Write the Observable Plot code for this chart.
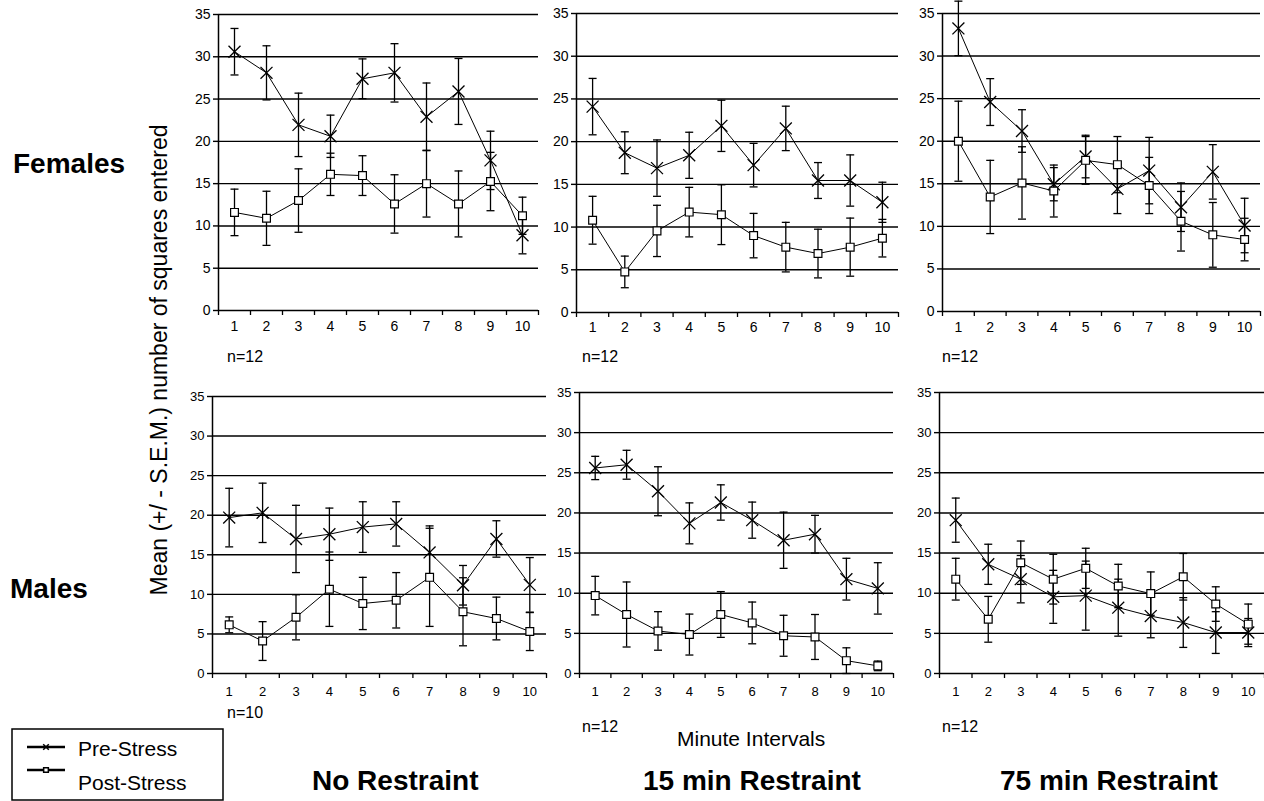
<!DOCTYPE html>
<html>
<head>
<meta charset="utf-8">
<script src="https://cdn.jsdelivr.net/npm/d3@7"></script>
<script src="https://cdn.jsdelivr.net/npm/@observablehq/plot@0.6"></script>
<style>
  body { margin: 0; background: #fff; }
  #page { position: relative; width: 1264px; height: 801px; overflow: hidden; background: #fff;
          font-family: "Liberation Sans", Arial, Helvetica, sans-serif; color: #000; }
  .panel { position: absolute; }
  #overlay { position: absolute; left: 0; top: 0; pointer-events: none; }
</style>
</head>
<body>
<div id="page"></div>
<script>
// Minute intervals on the x axis and the y tick values
const intervals = [1, 2, 3, 4, 5, 6, 7, 8, 9, 10];
const yTicks = [0, 5, 10, 15, 20, 25, 30, 35];
const gridValues = [5, 10, 15, 20, 25, 30, 35];
const categoryEdges = [0.5, 1.5, 2.5, 3.5, 4.5, 5.5, 6.5, 7.5, 8.5, 9.5, 10.5];

// Females, no restraint
const femNoPre      = [30.6, 28.1, 21.95, 20.6, 27.4, 28.1, 22.9, 25.9, 17.75, 8.9];
const femNoPreSem   = [2.75, 3.2, 3.75, 2.5, 2.35, 3.45, 4.0, 3.9, 3.45, 2.2];
const femNoPost     = [11.6, 10.9, 13.0, 16.1, 15.95, 12.6, 15.0, 12.6, 15.25, 11.2];
const femNoPostSem  = [2.75, 3.2, 3.75, 2.5, 2.35, 3.45, 3.95, 3.9, 3.45, 2.2];

// Females, 15 min restraint
const fem15Pre      = [24.1, 18.7, 16.9, 18.4, 21.85, 17.25, 21.55, 15.45, 15.45, 12.9];
const fem15PreSem   = [3.3, 2.45, 3.3, 2.7, 3.0, 2.55, 2.6, 2.1, 3.0, 2.35];
const fem15Post     = [10.8, 4.75, 9.55, 11.75, 11.45, 9.0, 7.65, 6.9, 7.65, 8.7];
const fem15PostSem  = [2.8, 1.85, 3.0, 2.9, 3.5, 2.6, 2.9, 2.85, 3.4, 2.2];

// Females, 75 min restraint
const fem75Pre      = [33.25, 24.6, 21.2, 14.95, 18.2, 14.4, 16.55, 12.25, 16.4, 10.1];
const fem75PreSem   = [3.2, 2.75, 2.5, 1.95, 2.5, 2.9, 3.9, 2.85, 3.2, 3.2];
const fem75Post     = [20.0, 13.45, 15.1, 14.15, 17.75, 17.25, 14.8, 10.6, 9.0, 8.45];
const fem75PostSem  = [4.7, 4.3, 4.25, 3.05, 2.8, 3.3, 3.3, 3.5, 3.8, 2.5];

// Males, no restraint
const maleNoPre     = [19.7, 20.3, 17.0, 17.6, 18.5, 18.9, 15.3, 11.15, 17.0, 11.2];
const maleNoPreSem  = [3.7, 3.75, 4.25, 3.3, 3.2, 2.8, 3.35, 2.5, 2.3, 3.45];
const maleNoPost    = [6.15, 4.1, 7.1, 10.65, 8.85, 9.25, 12.15, 7.8, 6.95, 5.3];
const maleNoPostSem = [1.0, 2.45, 2.85, 4.7, 3.3, 3.5, 6.2, 4.3, 2.7, 2.4];

// Males, 15 min restraint
const male15Pre     = [25.6, 26.0, 22.7, 18.7, 21.3, 19.1, 16.6, 17.35, 11.75, 10.6];
const male15PreSem  = [1.45, 1.8, 3.05, 2.55, 2.2, 2.25, 3.5, 2.35, 2.6, 3.2];
const male15Post    = [9.7, 7.35, 5.3, 4.85, 7.35, 6.3, 4.7, 4.55, 1.6, 0.95];
const male15PostSem = [2.4, 4.05, 2.4, 2.55, 2.85, 2.6, 2.55, 2.8, 1.6, 0.6];

// Males, 75 min restraint
const male75Pre     = [19.1, 13.6, 11.75, 9.55, 9.7, 8.2, 7.15, 6.35, 5.1, 5.1];
const male75PreSem  = [2.75, 2.5, 2.95, 3.3, 4.3, 3.55, 2.7, 3.1, 2.6, 1.75];
const male75Post    = [11.75, 6.75, 13.8, 11.75, 13.1, 10.9, 9.95, 12.05, 8.65, 6.15];
const male75PostSem = [2.6, 2.85, 2.7, 3.1, 2.5, 2.7, 2.7, 2.9, 2.15, 2.5];

const FONT = '"Liberation Sans", Arial, Helvetica, sans-serif';

// Horizontal whisker cap drawn as a symbol so its width stays in pixels
const capSymbol = {
  draw(context, size) {
    const w = Math.sqrt(size / Math.PI);
    context.moveTo(-w, 0);
    context.lineTo(w, 0);
  }
};

function rows(pre, preSem, post, postSem) {
  return intervals.map((i, k) => ({
    i,
    pre: pre[k], preLo: pre[k] - preSem[k], preHi: pre[k] + preSem[k],
    post: post[k], postLo: post[k] - postSem[k], postHi: post[k] + postSem[k]
  }));
}

function errorMarks(data, lo, hi) {
  return [
    Plot.ruleX(data, {x: "i", y1: lo, y2: hi, stroke: "black", strokeWidth: 1.3}),
    Plot.dot(data, {x: "i", y: lo, symbol: capSymbol, r: 4, fill: "none", stroke: "black", strokeWidth: 1.3}),
    Plot.dot(data, {x: "i", y: hi, symbol: capSymbol, r: 4, fill: "none", stroke: "black", strokeWidth: 1.3})
  ];
}

function panel(cfg) {
  const data = rows(cfg.pre, cfg.preSem, cfg.post, cfg.postSem);
  const marginLeft = 44, marginRight = 4;
  const width = marginLeft + (cfg.right - cfg.axis) + marginRight;
  const chart = Plot.plot({
    width,
    height: cfg.bottom - cfg.top,
    marginLeft,
    marginRight,
    marginTop: cfg.y35 - cfg.top,
    marginBottom: cfg.bottom - cfg.y0,
    style: {background: "transparent", fontFamily: FONT, fontSize: cfg.font + "px", color: "black", overflow: "visible"},
    x: {type: "linear", domain: [0.5, 10.5]},
    y: {domain: [0, 35]},
    marks: [
      Plot.ruleY(gridValues, {stroke: "black", strokeWidth: 1.4}),
      Plot.axisY(yTicks, {tickSize: 5, tickPadding: 3, label: null, strokeWidth: 1.4, fontSize: cfg.font}),
      Plot.axisX(categoryEdges, {tickSize: 5, tickFormat: () => "", label: null, strokeWidth: 1.3}),
      Plot.axisX(intervals, {tickSize: 0, tickPadding: cfg.labelPad, label: null, fontSize: cfg.font}),
      Plot.ruleX([0.5], {y1: 0, y2: 35, stroke: "black", strokeWidth: 1.5}),
      Plot.ruleY([0], {stroke: "black", strokeWidth: 1.5}),
      ...errorMarks(data, "preLo", "preHi"),
      ...errorMarks(data, "postLo", "postHi"),
      Plot.line(data, {x: "i", y: "pre", stroke: "black", strokeWidth: 1}),
      Plot.line(data, {x: "i", y: "post", stroke: "black", strokeWidth: 1}),
      Plot.dot(data, {x: "i", y: "pre", symbol: "times", r: 5.5, stroke: "black", strokeWidth: 1.3}),
      Plot.dot(data, {x: "i", y: "post", symbol: "square", r: 4.4, fill: "white", stroke: "black", strokeWidth: 1.2})
    ]
  });
  const holder = document.createElement("div");
  holder.className = "panel";
  holder.style.left = (cfg.axis - marginLeft) + "px";
  holder.style.top = cfg.top + "px";
  holder.style.width = width + "px";
  holder.appendChild(chart);
  return holder;
}

const page = document.getElementById("page");

const panels = [
  {pre: femNoPre, preSem: femNoPreSem, post: femNoPost, postSem: femNoPostSem,
   axis: 218, right: 538, top: 0, y35: 14, y0: 310, bottom: 345, font: 14, labelPad: 11},
  {pre: fem15Pre, preSem: fem15PreSem, post: fem15Post, postSem: fem15PostSem,
   axis: 576, right: 898, top: 0, y35: 13, y0: 312, bottom: 345, font: 14, labelPad: 10},
  {pre: fem75Pre, preSem: fem75PreSem, post: fem75Post, postSem: fem75PostSem,
   axis: 942, right: 1260, top: 0, y35: 13, y0: 311, bottom: 345, font: 14, labelPad: 11},
  {pre: maleNoPre, preSem: maleNoPreSem, post: maleNoPost, postSem: maleNoPostSem,
   axis: 212, right: 546, top: 380, y35: 396, y0: 673, bottom: 705, font: 13, labelPad: 13},
  {pre: male15Pre, preSem: male15PreSem, post: male15Post, postSem: male15PostSem,
   axis: 579, right: 893, top: 380, y35: 392, y0: 673, bottom: 705, font: 13, labelPad: 13},
  {pre: male75Pre, preSem: male75PreSem, post: male75Post, postSem: male75PostSem,
   axis: 939, right: 1264, top: 380, y35: 392, y0: 673, bottom: 705, font: 13, labelPad: 13}
];
panels.forEach(cfg => page.appendChild(panel(cfg)));

// Titles, sample sizes and legend
const svg = d3.create("svg")
  .attr("id", "overlay")
  .attr("width", 1264)
  .attr("height", 801)
  .attr("font-family", FONT)
  .attr("fill", "black");

function label(text, x, y, size, weight = "normal", anchor = "start") {
  svg.append("text").attr("x", x).attr("y", y).attr("font-size", size)
    .attr("font-weight", weight).attr("text-anchor", anchor).text(text);
}

label("Females", 13, 173, 28, "bold");
label("Males", 10, 598, 28, "bold");

svg.append("text")
  .attr("transform", "translate(167,360) rotate(-90)")
  .attr("text-anchor", "middle")
  .attr("font-size", 23)
  .text("Mean (+/ - S.E.M.) number of squares entered");

label("n=12", 227, 362, 16);
label("n=12", 582, 362, 16);
label("n=12", 942, 362, 16);
label("n=10", 227, 718, 16);
label("n=12", 582, 732, 16);
label("n=12", 942, 732, 16);

label("Minute Intervals", 677, 746, 21);

label("No Restraint", 312, 790, 28, "bold");
label("15 min Restraint", 643, 790, 28, "bold");
label("75 min Restraint", 1000, 790, 28, "bold");

// Legend box
svg.append("rect").attr("x", 12).attr("y", 729).attr("width", 211).attr("height", 71)
  .attr("fill", "none").attr("stroke", "black").attr("stroke-width", 1.5);
const legendRows = [
  {name: "Pre-Stress", y: 747, textY: 756, symbol: d3.symbolTimes, fill: "none"},
  {name: "Post-Stress", y: 770, textY: 790, symbol: d3.symbolSquare, fill: "white"}
];
legendRows.forEach(row => {
  svg.append("line").attr("x1", 27).attr("x2", 65).attr("y1", row.y).attr("y2", row.y)
    .attr("stroke", "black").attr("stroke-width", 2.5);
  svg.append("path").attr("transform", `translate(46,${row.y})`)
    .attr("d", d3.symbol(row.symbol, 22)())
    .attr("fill", row.fill).attr("stroke", "black").attr("stroke-width", 1.5);
  label(row.name, 78, row.textY, 21);
});

page.appendChild(svg.node());
</script>
</body>
</html>
